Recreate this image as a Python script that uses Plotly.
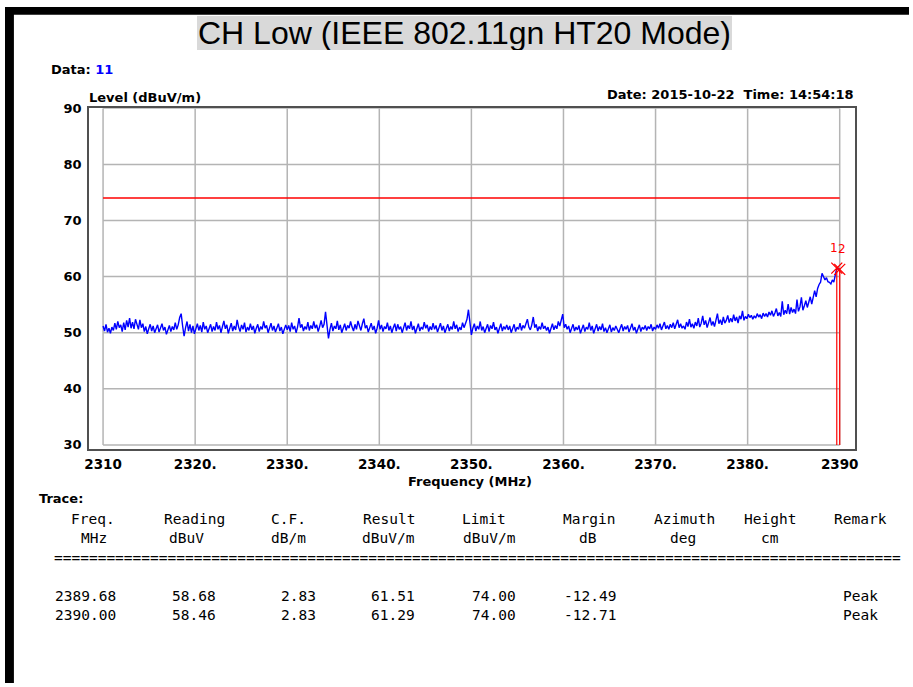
import plotly.graph_objects as go

# ---- sweep data (dBuV/m), 2310 - 2390 MHz, 0.16 MHz per point ----
F_START = 2310.0
F_STEP = 0.16
level = [
    51.2, 50.3, 51.5, 50.1, 50.8, 49.9, 51.0, 50.4, 51.7, 50.6, 52.0, 50.9, 51.4, 50.2, 51.8, 50.5, 52.2, 51.0, 52.6, 50.8, 51.9, 50.7, 52.4, 51.3, 50.6,
    52.3, 50.9, 51.6, 50.2, 51.1, 49.8, 50.7, 51.5, 50.3, 51.2, 50.0, 50.9, 51.4, 50.1, 50.8, 51.6, 50.4, 51.0, 49.7, 50.6, 51.3, 50.2, 51.1, 50.5, 51.8,
    50.6, 51.4, 52.7, 53.4, 51.2, 49.4, 50.9, 52.0, 50.3, 51.5, 50.0, 51.2, 49.8, 50.7, 51.6, 50.4, 51.3, 50.1, 51.9, 50.6, 51.2, 50.0, 50.8, 51.5, 50.2,
    51.1, 50.4, 51.9, 50.6, 51.3, 50.0, 50.9, 52.1, 50.7, 51.4, 49.9, 50.8, 51.7, 50.3, 51.2, 50.5, 52.3, 51.0, 50.2, 51.4, 50.6, 51.8, 50.1, 51.0, 50.4,
    51.6, 50.5, 51.2, 49.9, 50.8, 51.5, 50.2, 51.1, 50.6, 52.0, 50.8, 51.3, 50.0, 50.9, 51.7, 50.4, 51.2, 50.1, 50.8, 51.6, 50.3, 51.0, 49.8, 50.7, 51.4,
    50.5, 51.3, 50.2, 51.8, 50.6, 51.2, 50.0, 51.0, 52.6, 50.9, 51.5, 50.3, 51.1, 50.6, 51.9, 50.4, 51.3, 50.7, 52.0, 50.8, 51.4, 50.2, 51.1, 52.2, 50.9,
    51.5, 53.7, 51.0, 49.0, 50.6, 51.7, 50.3, 51.2, 50.7, 52.1, 50.5, 51.4, 50.0, 50.9, 51.6, 50.4, 51.3, 50.8, 52.0, 51.0, 50.3, 51.5, 50.6, 52.1, 51.2,
    50.4, 51.6, 52.5, 50.8, 51.3, 50.1, 51.0, 51.7, 50.5, 51.2, 49.9, 50.8, 52.2, 50.6, 51.4, 50.2, 51.1, 50.7, 51.8, 50.4, 51.2, 50.0, 50.9, 51.6, 50.3,
    51.5, 50.6, 51.1, 50.0, 50.9, 51.8, 50.4, 51.3, 50.7, 52.0, 50.5, 51.2, 49.9, 50.8, 51.6, 50.3, 51.0, 50.6, 51.9, 50.8, 51.4, 50.2, 51.1, 50.5, 51.7,
    50.6, 51.3, 50.1, 50.9, 51.7, 50.4, 51.2, 50.0, 50.8, 51.5, 50.3, 51.1, 50.6, 52.0, 50.7, 51.4, 50.2, 51.0, 50.5, 51.8, 50.9, 51.5, 52.4, 54.1, 51.1,
    49.6, 50.8, 51.6, 50.3, 51.2, 50.6, 52.0, 50.4, 51.1, 50.0, 50.9, 51.5, 50.2, 51.3, 50.7, 51.9, 50.5, 51.0, 49.9, 50.8, 51.6, 50.3, 51.1, 50.6, 51.4,
    50.5, 51.2, 50.0, 50.8, 51.5, 50.2, 51.0, 50.6, 51.7, 50.4, 51.3, 50.8, 51.6, 52.4, 51.0, 50.5, 51.4, 52.8, 50.9, 51.5, 50.3, 51.1, 50.6, 51.8, 50.7,
    51.2, 50.4, 51.0, 49.9, 50.8, 51.6, 50.5, 51.3, 50.7, 52.0, 51.2, 52.3, 53.3, 50.9, 51.5, 50.6, 51.2, 50.0, 50.8, 51.5, 50.3, 51.0, 50.5, 51.3, 49.9,
    50.7, 51.4, 50.2, 51.0, 50.6, 51.8, 50.4, 51.2, 49.9, 50.7, 51.5, 50.3, 51.1, 50.5, 51.6, 50.2, 50.9, 50.0, 50.7, 51.4, 50.1, 50.9, 50.4, 51.2, 50.6,
    50.0, 50.8, 51.5, 50.3, 51.1, 50.6, 51.3, 50.1, 50.9, 51.6, 50.4, 51.0, 49.9, 50.8, 51.4, 50.2, 51.0, 50.6, 51.3, 50.4, 51.1, 50.7, 51.5, 50.3, 51.0,
    50.6, 51.4, 50.8, 51.6, 50.5, 51.2, 51.9, 50.7, 51.3, 50.6, 51.5, 50.9, 51.8, 50.7, 51.4, 52.3, 50.9, 51.6, 50.8, 51.2, 50.6, 51.9, 51.1, 52.4, 51.0,
    51.6, 50.8, 51.9, 51.2, 52.6, 51.0, 51.7, 53.0, 51.4, 52.2, 50.9, 51.8, 52.7, 51.3, 52.0, 51.1, 52.5, 53.4, 51.6, 52.3, 51.4, 52.8, 51.7, 52.2, 53.1,
    51.8, 52.6, 51.9, 53.2, 52.1, 52.8, 51.7, 53.0, 52.4, 53.9, 52.2, 52.9, 52.5, 53.3, 52.7, 53.1, 52.4, 53.0, 52.6, 53.4, 52.8, 53.2, 52.5, 53.5, 52.9,
    53.4, 52.8, 53.7, 53.1, 53.9, 52.9, 53.5, 54.3, 53.0, 53.6, 52.9, 55.6, 53.2, 54.0, 53.4, 55.1, 53.3, 54.5, 53.6, 54.2, 53.4, 55.9, 53.8, 54.6, 56.3,
    54.0, 54.8, 55.7, 54.5, 55.3, 56.4, 55.1, 56.3, 57.5, 56.4, 57.9, 58.6, 59.0, 60.6, 59.8, 59.4, 59.8, 59.1, 59.0, 58.7, 59.4, 59.0, 60.3, 61.51, 61.4,
    61.29,
]
freq = [round(F_START + i * F_STEP, 2) for i in range(len(level))]

# ---- limit and marker table ----
LIMIT = 74.00
mark_no = ["1", "2"]
mark_freq = [2389.68, 2390.00]
mark_reading = [58.68, 58.46]
mark_cf = [2.83, 2.83]
mark_result = [61.51, 61.29]
mark_limit = [74.00, 74.00]
mark_margin = [-12.49, -12.71]
mark_remark = ["Peak", "Peak"]

# ---- axes ----
x_ticks = [2310, 2320, 2330, 2340, 2350, 2360, 2370, 2380, 2390]
x_ticktext = ["2310", "2320.", "2330.", "2340.", "2350.", "2360.", "2370.", "2380.", "2390"]
y_ticks = [30, 40, 50, 60, 70, 80, 90]
y_ticktext = ["30", "40", "50", "60", "70", "80", "90"]

W, H = 913, 687


def px(x):
    return x / W


def py(y):
    return 1 - y / H


BOLD = dict(family="DejaVu Sans", size=13, color="#000000", weight="bold")
TICK_X = dict(family="DejaVu Sans", size=13.5, color="#000000", weight="bold")
MONO = dict(family="DejaVu Sans Mono", size=14.5, color="#000000")
RED = "#ff0000"
GRID = "#b4b4b4"

fig = go.Figure()

# measured trace
fig.add_trace(go.Scatter(x=freq, y=level, mode="lines",
                         line=dict(color="#0000ff", width=1.4), hoverinfo="skip"))
# limit line
fig.add_trace(go.Scatter(x=[x_ticks[0], x_ticks[-1]], y=[LIMIT, LIMIT], mode="lines",
                         line=dict(color=RED, width=1.5), hoverinfo="skip"))
# marker drop lines
for f, r in zip(mark_freq, mark_result):
    fig.add_trace(go.Scatter(x=[f, f], y=[y_ticks[0], r], mode="lines",
                             line=dict(color=RED, width=1.2), hoverinfo="skip"))
# marker crosses
fig.add_trace(go.Scatter(x=mark_freq, y=mark_result, mode="markers",
                         marker=dict(symbol="x-thin-open", size=11, color=RED,
                                     line=dict(color=RED, width=1.3)),
                         hoverinfo="skip"))

shapes = []
# inner grid
for yv in y_ticks:
    shapes.append(dict(type="line", xref="x", yref="y", x0=x_ticks[0], x1=x_ticks[-1],
                       y0=yv, y1=yv, line=dict(color=GRID, width=1.5), layer="below"))
for xv in x_ticks:
    shapes.append(dict(type="line", xref="x", yref="y", x0=xv, x1=xv,
                       y0=y_ticks[0], y1=y_ticks[-1], line=dict(color=GRID, width=1.5), layer="below"))
# page border
shapes.append(dict(type="rect", xref="paper", yref="paper", x0=0, x1=px(9), y0=0, y1=1,
                   fillcolor="#000000", line=dict(width=0)))
shapes.append(dict(type="rect", xref="paper", yref="paper", x0=0, x1=1, y0=py(8), y1=1,
                   fillcolor="#000000", line=dict(width=0)))

ann = []
# heading
ann.append(dict(text="CH Low (IEEE 802.11gn HT20 Mode)", x=px(464.5), y=py(26),
                xref="paper", yref="paper", xanchor="center", yanchor="middle",
                showarrow=False, bgcolor="#d9d9d9", width=535, height=34, borderpad=0,
                borderwidth=0, font=dict(family="Liberation Sans", size=32, color="#000000")))
ann.append(dict(text="Data: <span style='color:#0000ff'>11</span>", x=px(44), y=py(64),
                xref="paper", yref="paper", xanchor="left", yanchor="middle",
                showarrow=False, font=BOLD))
ann.append(dict(text="Level (dBuV/m)", x=px(83), y=py(92), xref="paper", yref="paper",
                xanchor="left", yanchor="middle", showarrow=False, font=BOLD))
ann.append(dict(text="Date: 2015-10-22  Time: 14:54:18", x=px(859), y=py(89),
                xref="paper", yref="paper", xanchor="right", yanchor="middle",
                showarrow=False, font=BOLD))
ann.append(dict(text="Frequency (MHz)", x=px(470), y=py(482), xref="paper", yref="paper",
                xanchor="center", yanchor="middle", showarrow=False, font=BOLD))
ann.append(dict(text="Trace:", x=px(32), y=py(500), xref="paper", yref="paper",
                xanchor="left", yanchor="middle", showarrow=False, font=BOLD))

# marker numbers above the crosses, nudged apart so both stay legible
for n, f, r, dx in zip(mark_no, mark_freq, mark_result, [-3, 2]):
    ann.append(dict(text=n, x=f, y=r, xref="x", yref="y", xanchor="center", yanchor="middle",
                    xshift=dx, yshift=20, showarrow=False,
                    font=dict(family="DejaVu Sans", size=12, color=RED)))

# table
hdr1 = [("Freq.", 89), ("Reading", 191), ("C.F.", 286), ("Result", 387.5), ("Limit", 484),
        ("Margin", 590), ("Azimuth", 686), ("Height", 773), ("Remark", 864.5)]
hdr2 = [("MHz", 90), ("dBuV", 183), ("dB/m", 286), ("dBuV/m", 387.5), ("dBuV/m", 489),
        ("dB", 589), ("deg", 685), ("cm", 772.5)]
for txt, cx in hdr1:
    ann.append(dict(text=txt, x=px(cx), y=py(520), xref="paper", yref="paper",
                    xanchor="center", yanchor="middle", showarrow=False, font=MONO))
for txt, cx in hdr2:
    ann.append(dict(text=txt, x=px(cx), y=py(540), xref="paper", yref="paper",
                    xanchor="center", yanchor="middle", showarrow=False, font=MONO))
ann.append(dict(text="=" * 97, x=px(47), y=py(560), xref="paper", yref="paper",
                xanchor="left", yanchor="middle", showarrow=False, font=MONO))

col_x = [81, 191, 296, 391.5, 494, 590.5, 864]
for i in range(len(mark_freq)):
    row = [f"{mark_freq[i]:.2f}", f"{mark_reading[i]:.2f}", f"{mark_cf[i]:.2f}",
           f"{mark_result[i]:.2f}", f"{mark_limit[i]:.2f}", f"{mark_margin[i]:.2f}",
           mark_remark[i]]
    for txt, cx in zip(row, col_x):
        ann.append(dict(text=txt, x=px(cx), y=py(599 + 19 * i), xref="paper", yref="paper",
                        xanchor="center", yanchor="middle", showarrow=False, font=MONO))

fig.update_layout(
    width=W, height=H, margin=dict(l=0, r=0, t=0, b=0),
    paper_bgcolor="#ffffff", plot_bgcolor="#ffffff", showlegend=False,
    shapes=shapes, annotations=ann,
    xaxis=dict(domain=[px(85), px(858)], range=[2308.49, 2391.61],
               tickmode="array", tickvals=x_ticks, ticktext=x_ticktext,
               showgrid=False, zeroline=False, showline=True, mirror=True,
               linecolor="#505050", linewidth=2, ticks="", tickfont=TICK_X,
               ticklabelstandoff=2),
    yaxis=dict(domain=[py(449), py(103)], range=[29.3, 90],
               tickmode="array", tickvals=y_ticks, ticktext=y_ticktext,
               showgrid=False, zeroline=False, showline=True, mirror=True,
               linecolor="#505050", linewidth=2, ticks="", tickfont=BOLD,
               ticklabelstandoff=3),
)

# the page body gets no default margin so the figure sits at the window's corner
fig.write_html("out.html",
               post_script="document.body.style.margin='0';document.body.style.overflow='hidden';")
